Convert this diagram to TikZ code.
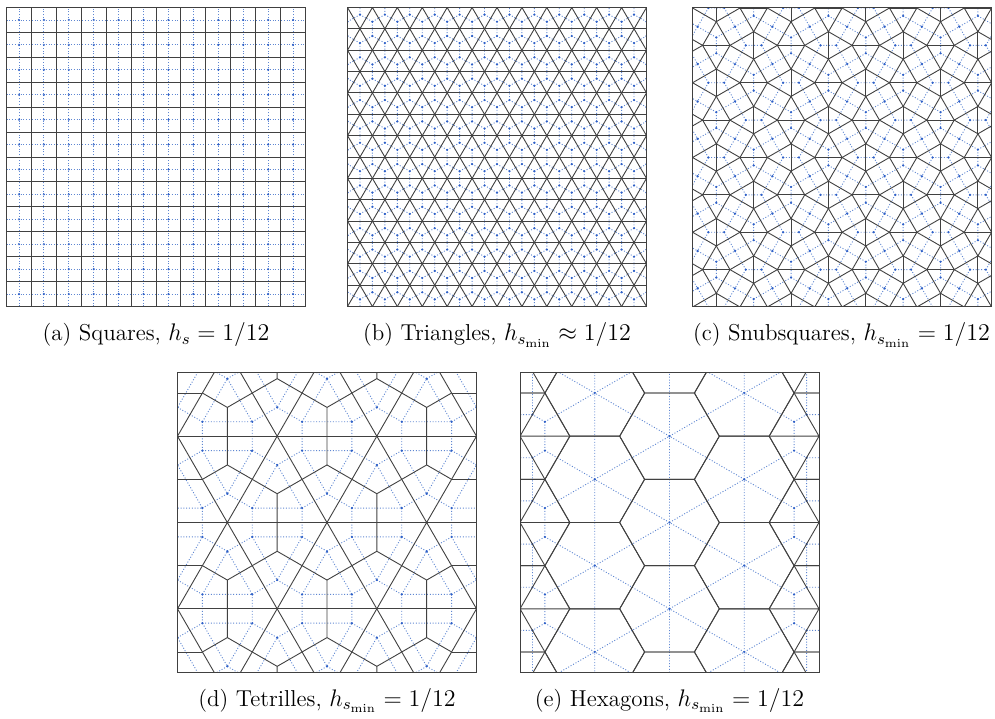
\documentclass[tikz,border=0pt]{standalone}
\usepackage{amsmath}
\definecolor{dualblue}{RGB}{95,135,210}
\definecolor{dotblue}{RGB}{45,95,200}
\definecolor{primgray}{RGB}{65,65,65}
\tikzset{
  prim/.style={draw=primgray, line width=0.45pt},
  frame/.style={draw=black!75, line width=0.5pt},
  dual/.style={draw=dualblue, line width=0.45pt, dash pattern=on 0.5pt off 0.9pt},
  dotf/.style={fill=dotblue},
  captext/.style={font=\fontsize{11.5}{13.8}\selectfont, inner sep=0pt}
}
\newcommand\tetkite{\draw[prim] (0,0.096225)--(0,0) (0,0.096225)--(-0.083333,0.144338) (0,0.096225)--(0.083333,0.144338);}
\newcommand\tetdual{\draw[dual] (-0.083333,0.048113)--(0.083333,0.048113)--(0,0.19245)--cycle
 (-0.083333,0.048113)--(-0.083333,0) (-0.083333,0.048113)--(-0.125,0.072169)
 (0.083333,0.048113)--(0.083333,0) (0.083333,0.048113)--(0.125,0.072169)
 (0,0.19245)--(-0.041667,0.216506) (0,0.19245)--(0.041667,0.216506);
 \fill[dotf] (-0.083333,0.048113) circle[radius=0.6pt] (0.083333,0.048113) circle[radius=0.6pt] (0,0.19245) circle[radius=0.6pt];}
\newcommand\hexagonpath{(0:0.166667)--(60:0.166667)--(120:0.166667)--(180:0.166667)--(240:0.166667)--(300:0.166667)--cycle}
\begin{document}
\begin{tikzpicture}[x=0.5pt,y=0.5pt]
\useasboundingbox (0,0) rectangle (995,718);

% ---------------- (a) squares ----------------
\begin{scope}[shift={(6.5,411.5)},x=149.5pt,y=149.5pt]
  \foreach \i in {0,...,11}{
    \pgfmathsetmacro\cc{(\i+0.5)/12}
    \draw[dual] (\cc,0)--(\cc,1) (0,\cc)--(1,\cc);
    \foreach \j in {0,...,11}{\fill[dotf] (\cc,{(\j+0.5)/12}) circle[radius=0.6pt];}
  }
  \foreach \i in {1,...,11}{\draw[prim] (\i/12,0)--(\i/12,1) (0,\i/12)--(1,\i/12);}
  \draw[frame] (0,0) rectangle (1,1);
\end{scope}

% ---------------- (b) triangles ----------------
\begin{scope}[shift={(347.5,411.5)},x=149.5pt,y=149.5pt]
  \begin{scope}
    \clip (0,0) rectangle (1,1);
    \foreach \k in {0,...,13}{
      \pgfmathsetmacro\yt{1-\k/14}
      \pgfmathsetmacro\yb{1-(\k+1)/14}
      \pgfmathsetmacro\ym{1-(\k+0.5)/14}
      \pgfmathsetmacro\gd{1-(\k+1/3)/14}
      \pgfmathsetmacro\gu{1-(\k+2/3)/14}
      \pgfmathsetmacro\ot{mod(\k,2)/24}
      \pgfmathsetmacro\ob{mod(\k+1,2)/24}
      \foreach \j in {-1,...,12}{
        \pgfmathsetmacro\xd{\j/12+\ot+1/24}
        \pgfmathsetmacro\xu{\j/12+\ob+1/24}
        \draw[dual] (\xd,\gd)--(\xd,\yt) (\xd,\gd)--({\xd-1/48},\ym) (\xd,\gd)--({\xd+1/48},\ym)
                    (\xu,\gu)--(\xu,\yb) (\xu,\gu)--({\xu-1/48},\ym) (\xu,\gu)--({\xu+1/48},\ym);
        \fill[dotf] (\xd,\gd) circle[radius=0.6pt] (\xu,\gu) circle[radius=0.6pt];
      }
    }
    \foreach \k in {1,...,13}{\draw[prim] (0,\k/14)--(1,\k/14);}
    \foreach \j in {-7,...,19}{\draw[prim] (\j/12,1)--({\j/12+14/24},0) (\j/12,1)--({\j/12-14/24},0);}
  \end{scope}
  \draw[frame] (0,0) rectangle (1,1);
\end{scope}

% ---------------- (c) snub squares ----------------
\begin{scope}[shift={(692,411)},x=149.5pt,y=149.5pt]
  \begin{scope}
    \clip (0,0) rectangle (1,1);
    \foreach \i in {-1,...,9}{
      \foreach \m in {-1,...,8}{
        \pgfmathsetmacro\cx{(\i+0.15)/8}
        \pgfmathsetmacro\cy{(\m+0.5)/8}
        \pgfmathtruncatemacro\ty{mod(\i+\m+20,2)}
        \ifnum\ty=1 \def\tha{15}\else\def\tha{75}\fi
        \begin{scope}[shift={(\cx,\cy)}]
          \draw[dual] ({\tha+45}:0.045753)--({\tha+225}:0.045753) ({\tha+135}:0.045753)--({\tha+315}:0.045753);
          \fill[dotf] (0,0) circle[radius=0.6pt];
          \draw[prim] (\tha:0.064705)--({\tha+90}:0.064705)--({\tha+180}:0.064705)--({\tha+270}:0.064705)--cycle;
          \ifnum\ty=1
            \foreach \rr in {0,90}{
              \begin{scope}[rotate=\rr]
                \draw[dual] (-0.0625,0.088916)--(-0.0625,0.036084)
                  (-0.0625,0.088916)--(-0.039624,0.102123) (-0.0625,0.088916)--(-0.085376,0.102123)
                  (-0.0625,0.036084)--(-0.039624,0.022877) (-0.0625,0.036084)--(-0.085376,0.022877);
                \fill[dotf] (-0.0625,0.088916) circle[radius=0.6pt] (-0.0625,0.036084) circle[radius=0.6pt];
                \draw[prim] (-0.016747,0.0625)--(-0.108253,0.0625);
              \end{scope}
            }
          \fi
        \end{scope}
      }
    }
  \end{scope}
  \draw[frame] (0,0) rectangle (1,1);
\end{scope}

% ---------------- (d) tetrilles ----------------
\begin{scope}[shift={(177.5,46)},x=149.5pt,y=149.5pt]
  \begin{scope}
    \clip (0,0) rectangle (1,1);
    \foreach \yk/\upl/\dnl in {-0.077350/{0,0.333333,0.666667,1}/{0.166667,0.5,0.833333},
                               0.211325/{0.166667,0.5,0.833333}/{0,0.333333,0.666667,1},
                               0.5/{0,0.333333,0.666667,1}/{0.166667,0.5,0.833333},
                               0.788675/{0.166667,0.5,0.833333}/{0,0.333333,0.666667,1}}{
      \foreach \cx in \upl{
        \pgfmathtruncatemacro\bnd{abs(\cx-0.5)>0.4}
        \begin{scope}[shift={(\cx,\yk)}]
          \tetdual
          \ifnum\bnd=0 \tetkite\fi
        \end{scope}
      }
      \foreach \cx in \dnl{
        \pgfmathtruncatemacro\bnd{abs(\cx-0.5)>0.4}
        \begin{scope}[shift={(\cx,\yk+0.288675)},yscale=-1]
          \tetdual
          \ifnum\bnd=0 \tetkite\fi
        \end{scope}
      }
    }
    \foreach \yy in {0.211325,0.5,0.788675}{\draw[prim] (0,\yy)--(1,\yy);}
    \foreach \j in {-3,...,4}{
      \pgfmathsetmacro\xo{1/6+\j/3}
      \draw[prim] ({\xo-0.404145},-0.2)--({\xo+0.404145},1.2) ({\xo+0.404145},-0.2)--({\xo-0.404145},1.2);
    }
    \foreach \yy in {0.066987,0.355662,0.644338,0.933013}{\draw[prim] (0,\yy)--(0.083333,\yy) (0.916667,\yy)--(1,\yy);}
  \end{scope}
  \draw[frame] (0,0) rectangle (1,1);
\end{scope}

% ---------------- (e) hexagons ----------------
\begin{scope}[shift={(520,46)},x=149.5pt,y=149.5pt]
  \begin{scope}
    \clip (0,0) rectangle (1,1);
    \foreach \hx/\hy in {0.5/-0.077350,0.5/0.211325,0.5/0.5,0.5/0.788675,0.5/1.077350,
                         0.25/0.066987,0.25/0.355662,0.25/0.644338,0.25/0.933013,
                         0.75/0.066987,0.75/0.355662,0.75/0.644338,0.75/0.933013}{
      \begin{scope}[shift={(\hx,\hy)}]
        \draw[dual] (30:0.144338)--(210:0.144338) (90:0.144338)--(270:0.144338) (150:0.144338)--(330:0.144338);
        \fill[dotf] (0,0) circle[radius=0.6pt];
        \draw[prim] \hexagonpath;
      \end{scope}
    }
    \foreach \hx/\sx in {0/1,1/-1}{
      \foreach \hy in {-0.077350,0.211325,0.5,0.788675,1.077350}{
        \begin{scope}[shift={(\hx,\hy)},xscale=\sx]
          \draw[dual] (0.083333,0.048113)--(0.041667,0.072169) (0.083333,0.048113)--(0.125,0.072169)
            (0.083333,0.048113)--(0.083333,-0.048113)
            (0.083333,-0.048113)--(0.041667,-0.072169) (0.083333,-0.048113)--(0.125,-0.072169)
            (0.041667,0.072169)--(0.041667,0.144338) (0.041667,0.072169)--(0,0.072169)
            (0.041667,-0.072169)--(0.041667,-0.144338) (0.041667,-0.072169)--(0,-0.072169);
          \fill[dotf] (0.083333,0.048113) circle[radius=0.6pt] (0.083333,-0.048113) circle[radius=0.6pt]
                      (0.041667,0.072169) circle[radius=0.6pt] (0.041667,-0.072169) circle[radius=0.6pt];
          \draw[prim] \hexagonpath;
          \draw[prim] (0,0)--(0.166667,0) (0,0)--(60:0.166667) (0,0)--(300:0.166667);
        \end{scope}
      }
    }
  \end{scope}
  \draw[frame] (0,0) rectangle (1,1);
\end{scope}

% ---------------- captions ----------------
\node[captext, anchor=base] (capa) at (156,377) {(a) Squares, $h_s = 1/12$};
\node[captext, anchor=base] (capb) at (497,377) {(b) Triangles, $h_{s_{\min}} \approx 1/12$};
\node[captext, anchor=base] (capc) at (841.5,377) {(c) Snubsquares, $h_{s_{\min}} = 1/12$};
\node[captext, anchor=base] (capd) at (327,12) {(d) Tetrilles, $h_{s_{\min}} = 1/12$};
\node[captext, anchor=base] (cape) at (669.5,12) {(e) Hexagons, $h_{s_{\min}} = 1/12$};
\end{tikzpicture}
\end{document}
